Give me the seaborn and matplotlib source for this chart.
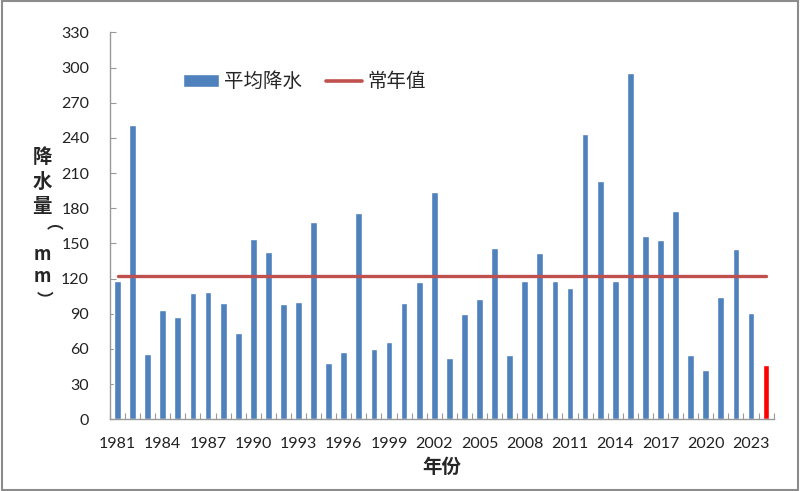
import numpy as np
import pandas as pd
import seaborn as sns
import matplotlib.pyplot as plt
from matplotlib.patches import Patch, Rectangle
from matplotlib.lines import Line2D

# data
years = list(range(1981, 2025))
rain = [118, 251, 56, 93, 87, 108, 109, 99, 74, 154,
        143, 98, 100, 168, 48, 57, 176, 60, 66, 99,
        117, 194, 52, 90, 103, 146, 55, 118, 142, 118,
        112, 243, 203, 118, 295, 156, 153, 178, 55, 42,
        104, 145, 91, 46]
normal = 122
tick_years = list(range(1981, 2024, 3))

data = pd.DataFrame({'year': [str(y) for y in years], 'rain': rain})
bar_colors = ['#4F81BD'] * (len(years) - 1) + ['#FF0000']

sns.set_style('white')
plt.rcParams['font.family'] = ['Lato', 'Noto Sans CJK SC', 'DejaVu Sans']
cjk = ['Noto Sans CJK SC', 'DejaVu Sans']

W, H = 800, 491
fig = plt.figure(figsize=(8, 4.91), dpi=100)
ax = fig.add_axes([0.1375, 0.146, 0.8295, 0.788])

sns.barplot(data=data, x='year', y='rain', hue='year', palette=bar_colors,
            width=0.45, legend=False, saturation=1, ax=ax)
ax.plot(range(len(years)), [normal] * len(years), color='#C0504D', lw=2.4)

ax.set_xlim(-0.5, len(years) - 0.5)
ax.set_ylim(0, 330)
ax.set_yticks(range(0, 331, 30))
ax.set_xticks([years.index(y) for y in tick_years])
ax.set_xticklabels([str(y) for y in tick_years])
ax.set_xticks(np.arange(-0.5, len(years), 1), minor=True)
ax.tick_params(axis='x', which='major', length=0, pad=13, labelsize=11.5, colors='#222222')
ax.tick_params(axis='x', which='minor', direction='in', length=4, width=0.8, color='#999999', bottom=True)
ax.tick_params(axis='y', direction='in', length=4, width=0.8, color='#999999', pad=15,
               labelsize=11.5, labelcolor='#222222', left=True)

for s in ['top', 'right']:
    ax.spines[s].set_visible(False)
for s in ['left', 'bottom']:
    ax.spines[s].set_color('#999999')
    ax.spines[s].set_linewidth(1)

ax.set_xlabel('年份', family=cjk, fontsize=14, fontweight='bold', labelpad=5)
ax.set_ylabel('')

# vertical y label, one glyph at a time (brackets turned sideways)
ylab = [('降', 157, 0, 14), ('水', 182, 0, 14), ('量', 206, 0, 14), ('（', 232, -90, 12),
        ('m', 255, 0, 13), ('m', 277, 0, 13), ('）', 298, -90, 12)]
for ch, py, rot, fs in ylab:
    fig.text(42 / W, 1 - py / H, ch, family=cjk, fontsize=fs, fontweight='bold',
             ha='center', va='center', rotation=rot)

handles = [Patch(facecolor='#4F81BD'), Line2D([0], [0], color='#C0504D', lw=2.6)]
leg = ax.legend(handles, ['平均降水', '常年值'], loc='upper left', bbox_to_anchor=(0.083, 0.945),
                ncol=2, frameon=False, prop={'family': cjk, 'size': 14},
                handlelength=1.85, handleheight=0.6, handletextpad=0.3, columnspacing=1.2)

fig.patches.append(Rectangle((0.002, 0.003), 0.995, 0.994, transform=fig.transFigure,
                             fill=False, edgecolor='#8c8c8c', lw=1.5))

fig.savefig('out.png', dpi=100)
